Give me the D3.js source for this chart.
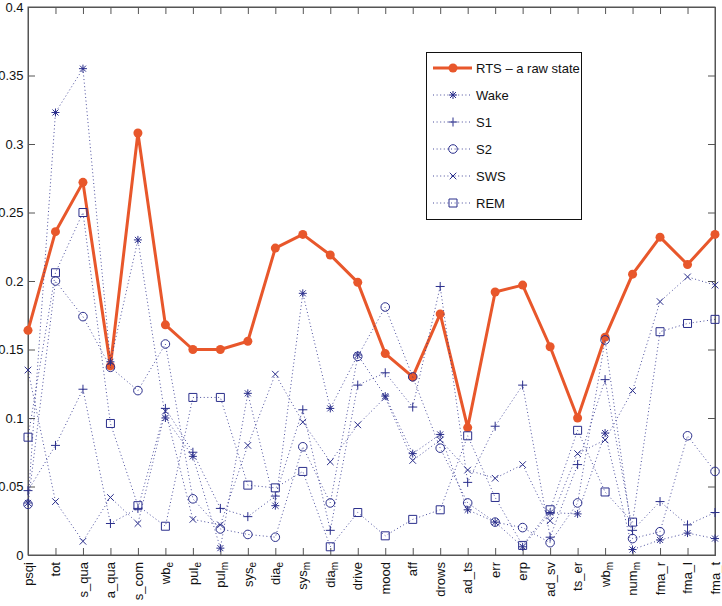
<!DOCTYPE html>
<html>
<head>
<meta charset="utf-8">
<script src="https://cdn.jsdelivr.net/npm/d3@7/dist/d3.min.js"></script>
<style>
  html, body { margin: 0; padding: 0; background: #fff; }
  svg { display: block; font-family: "Liberation Sans", Arial, sans-serif; }
</style>
</head>
<body>
<svg id="chart" width="722" height="606"></svg>
<script>
// ---------- data ----------
const categories = ["psqi","tot","s_qua","a_qua","s_com","wb_e","pul_e","pul_m","sys_e","dia_e",
  "sys_m","dia_m","drive","mood","aff","drows","ad_ts","err","erp","ad_sv","ts_er","wb_m","num_m",
  "fma_r","fma_l","fma_t"];
// label base / subscript pairs
const labelBase = ["psqi","tot","s_qua","a_qua","s_com","wb","pul","pul","sys","dia",
  "sys","dia","drive","mood","aff","drows","ad_ts","err","erp","ad_sv","ts_er","wb","num",
  "fma_r","fma_l","fma_t"];
const labelSub = ["","","","","","e","e","m","e","e",
  "m","m","","","","","","","","","","m","m",
  "","",""];

const rts  = [0.164,0.236,0.272,0.138,0.308,0.168,0.150,0.150,0.156,0.224,
              0.234,0.219,0.199,0.147,0.130,0.176,0.093,0.192,0.197,0.152,
              0.100,0.159,0.205,0.232,0.212,0.234];
const wake = [0.038,0.323,0.355,0.141,0.230,0.100,0.072,0.005,0.118,0.036,
              0.191,0.107,0.146,0.116,0.074,0.088,0.033,0.024,0.006,0.031,
              0.030,0.089,0.004,0.011,0.016,0.012];
const s1   = [0.047,0.080,0.121,0.023,0.034,0.107,0.075,0.034,0.028,0.043,
              0.106,0.018,0.124,0.133,0.108,0.196,0.053,0.094,0.124,0.013,
              0.066,0.128,0.018,0.039,0.022,0.031];
const s2   = [0.037,0.200,0.174,0.137,0.120,0.154,0.041,0.019,0.015,0.013,
              0.079,0.038,0.145,0.181,0.130,0.078,0.038,0.024,0.020,0.009,
              0.038,0.157,0.012,0.017,0.087,0.061];
const sws  = [0.135,0.039,0.010,0.042,0.023,0.105,0.026,0.022,0.080,0.132,
              0.097,0.068,0.095,0.115,0.069,0.084,0.062,0.056,0.066,0.025,
              0.074,0.084,0.120,0.185,0.203,0.197];
const rem  = [0.086,0.206,0.250,0.096,0.036,0.021,0.115,0.115,0.051,0.049,
              0.061,0.006,0.031,0.014,0.026,0.033,0.087,0.042,0.007,0.033,
              0.091,0.046,0.024,0.163,0.169,0.172];

const yTicks = [0,0.05,0.1,0.15,0.2,0.25,0.3,0.35,0.4];
const yTickLabels = ["0","0.05","0.1","0.15","0.2","0.25","0.3","0.35","0.4"];

const seriesNames = ["RTS \u2013 a raw state","Wake","S1","S2","SWS","REM"];

// ---------- layout ----------
const svg = d3.select("#chart");
const L = 28, R = 715, T = 7, B = 555;
const x = d3.scalePoint().domain(categories).range([L, R]).padding(0);
const y = d3.scaleLinear().domain([0, 0.4]).range([B, T]);

const blue = "#2b2f8c";
const orange = "#e8572b";
const axisCol = "#555";

// markers
function markerPath(shape, cx, cy) {
  const p = d3.path();
  if (shape === "star") {
    const r = 4, d = 3;
    p.moveTo(cx - r, cy); p.lineTo(cx + r, cy);
    p.moveTo(cx, cy - r); p.lineTo(cx, cy + r);
    p.moveTo(cx - d, cy - d); p.lineTo(cx + d, cy + d);
    p.moveTo(cx - d, cy + d); p.lineTo(cx + d, cy - d);
  } else if (shape === "plus") {
    const r = 4.5;
    p.moveTo(cx - r, cy); p.lineTo(cx + r, cy);
    p.moveTo(cx, cy - r); p.lineTo(cx, cy + r);
  } else if (shape === "cross") {
    const d = 3.3;
    p.moveTo(cx - d, cy - d); p.lineTo(cx + d, cy + d);
    p.moveTo(cx - d, cy + d); p.lineTo(cx + d, cy - d);
  } else if (shape === "square") {
    const h = 4;
    p.rect(cx - h, cy - h, 2 * h, 2 * h);
  } else if (shape === "circle") {
    p.moveTo(cx + 4.3, cy);
    p.arc(cx, cy, 4.3, 0, 2 * Math.PI);
  }
  return p.toString();
}

const dotted = [
  {name: seriesNames[1], vals: wake, shape: "star"},
  {name: seriesNames[2], vals: s1, shape: "plus"},
  {name: seriesNames[3], vals: s2, shape: "circle"},
  {name: seriesNames[4], vals: sws, shape: "cross"},
  {name: seriesNames[5], vals: rem, shape: "square"}
];

// frame
svg.append("rect").attr("x", L).attr("y", T).attr("width", R - L).attr("height", B - T)
  .attr("fill", "#fff").attr("stroke", axisCol).attr("stroke-width", 1);

// axes
const gL = svg.append("g").attr("transform", `translate(${L},0)`)
  .call(d3.axisLeft(y).tickValues(yTicks).tickSize(-7).tickPadding(4.5)
    .tickFormat((d, i) => yTickLabels[i]));
const gR = svg.append("g").attr("transform", `translate(${R},0)`)
  .call(d3.axisRight(y).tickValues(yTicks).tickSize(-7).tickFormat(""));
const gT = svg.append("g").attr("transform", `translate(0,${T})`)
  .call(d3.axisTop(x).tickSize(-7).tickFormat(""));
const gB = svg.append("g").attr("transform", `translate(0,${B})`)
  .call(d3.axisBottom(x).tickSize(-7).tickFormat(""));
[gL, gR, gT, gB].forEach(g => {
  g.select(".domain").attr("stroke", axisCol);
  g.selectAll(".tick line").attr("stroke", axisCol);
});
[gR, gT, gB].forEach(g => g.selectAll(".tick text").remove());
gL.selectAll(".tick text").attr("font-size", 13).attr("fill", "#111")
  .attr("font-family", "'Liberation Sans', Arial, sans-serif");

// x labels (rotated)
const xl = svg.append("g");
categories.forEach((c, i) => {
  const t = xl.append("text")
    .attr("transform", `translate(${x(c)},${B + 7}) rotate(-90)`)
    .attr("text-anchor", "end").attr("dy", "0.36em")
    .attr("font-size", 13).attr("fill", "#111");
  t.append("tspan").text(labelBase[i]);
  if (labelSub[i]) {
    t.append("tspan").attr("font-size", 10).attr("dy", "0.3em").text(labelSub[i]);
  }
});

// RTS line
const line = d3.line().x((d, i) => x(categories[i])).y(d => y(d));
svg.append("path").datum(rts).attr("d", line).attr("fill", "none")
  .attr("stroke", orange).attr("stroke-width", 3).attr("stroke-linejoin", "round");
svg.append("g").selectAll("circle").data(rts).join("circle")
  .attr("cx", (d, i) => x(categories[i])).attr("cy", d => y(d)).attr("r", 4.5)
  .attr("fill", orange);

// dotted series
dotted.forEach(s => {
  svg.append("path").datum(s.vals).attr("d", line).attr("fill", "none")
    .attr("stroke", blue).attr("stroke-width", 1).attr("stroke-dasharray", "1,2.6")
    .attr("opacity", 0.85);
});
dotted.forEach(s => {
  svg.append("g").selectAll("path").data(s.vals).join("path")
    .attr("d", (d, i) => markerPath(s.shape, x(categories[i]), y(d)))
    .attr("fill", "none").attr("stroke", blue).attr("stroke-width", 1);
});

// legend
const lg = svg.append("g");
lg.append("rect").attr("x", 426.5).attr("y", 52.5).attr("width", 155).attr("height", 167)
  .attr("fill", "#fff").attr("stroke", "#111").attr("stroke-width", 1);
const ly0 = 68, ldy = 27;
lg.append("line").attr("x1", 433).attr("x2", 472).attr("y1", ly0).attr("y2", ly0)
  .attr("stroke", orange).attr("stroke-width", 3);
lg.append("circle").attr("cx", 453).attr("cy", ly0).attr("r", 4.5).attr("fill", orange);
lg.append("text").attr("x", 476).attr("y", ly0).attr("dy", "0.36em").attr("font-size", 13)
  .attr("fill", "#111").text(seriesNames[0]);
dotted.forEach((s, k) => {
  const yy = ly0 + ldy * (k + 1);
  lg.append("line").attr("x1", 433).attr("x2", 472).attr("y1", yy).attr("y2", yy)
    .attr("stroke", blue).attr("stroke-width", 1).attr("stroke-dasharray", "1,2.6").attr("opacity", 0.85);
  lg.append("path").attr("d", markerPath(s.shape, 453, yy)).attr("fill", "none")
    .attr("stroke", blue).attr("stroke-width", 1);
  lg.append("text").attr("x", 476).attr("y", yy).attr("dy", "0.36em").attr("font-size", 13)
    .attr("fill", "#111").text(s.name);
});
</script>
</body>
</html>
